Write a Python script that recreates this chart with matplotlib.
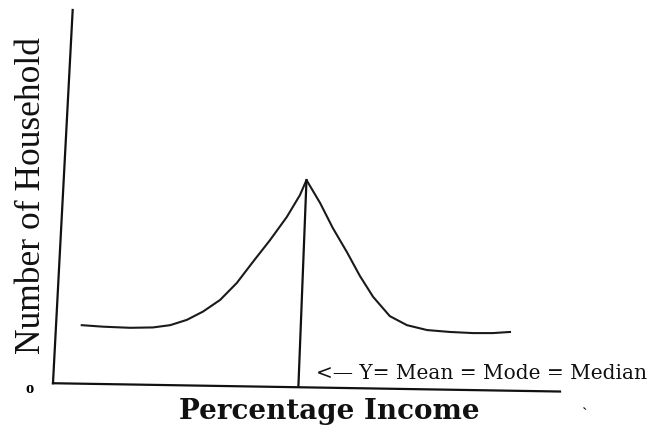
import matplotlib.pyplot as plt

# percentage income (x) and number of households (y)
income = [5.3, 9.5, 14.9, 19.4, 22.8, 26.1, 29.3, 32.7, 36.0, 39.2, 42.6,
          45.9, 48.5, 49.8,
          52.5, 55.0, 57.8, 60.4, 63.0, 66.3, 69.7, 73.7, 78.2, 82.8, 86.7, 90.1]
households = [16.4, 16.0, 15.7, 15.8, 16.4, 17.8, 20.0, 23.1, 27.6, 33.2, 39.0,
              45.1, 50.9, 54.9,
              48.8, 42.2, 35.8, 29.4, 23.9, 18.8, 16.4, 15.1, 14.6, 14.3, 14.3, 14.6]

peak_x = 49.8
peak_y = 54.9
label_text = '<— Y= Mean = Mode = Median'

plt.rcParams['font.family'] = ['Liberation Serif', 'DejaVu Serif']

fig = plt.figure(figsize=(6.67, 4.32), dpi=100)
ax = fig.add_axes([55 / 667, 45 / 432, 505 / 667, 377 / 432])
ax.set_xlim(0, 100)
ax.set_ylim(0, 100)
for s in ax.spines.values():
    s.set_visible(False)
ax.set_xticks([])
ax.set_yticks([])

# hand-drawn axes (neither is quite straight)
ax.plot([-0.004, 0.035], [0.01, 1.0], color='#111111', lw=1.6,
        transform=ax.transAxes, clip_on=False)
ax.plot([-0.004, 1.0], [0.01, -0.012], color='#111111', lw=1.6,
        transform=ax.transAxes, clip_on=False)

# symmetric distribution
ax.plot(income, households, color='#1a1a1a', lw=1.5, clip_on=False,
        solid_joinstyle='round')

# line from the peak down to the axis
ax.plot([peak_x, peak_x - 1.6], [peak_y, 0.2], color='#111111', lw=1.6)

ax.text(peak_x + 1.9, 3.7, label_text, fontsize=14.5, va='center', ha='left',
        family='DejaVu Serif', color='#111111', clip_on=False)

ax.text(-0.046, 0.509, 'Number of Household', transform=ax.transAxes,
        rotation=90, fontsize=25.5, va='center', ha='center', color='#111111')
ax.text(0.543, -0.066, 'Percentage Income', transform=ax.transAxes,
        fontsize=20, fontweight='bold', family='DejaVu Serif',
        va='center', ha='center', color='#111111')
ax.text(-0.05, -0.005, 'o', transform=ax.transAxes, fontsize=12,
        fontweight='bold', va='center', ha='center')
ax.text(1.05, -0.075, '`', transform=ax.transAxes, fontsize=12, va='center',
        ha='center')

fig.savefig('out.png', dpi=100, facecolor='white')
